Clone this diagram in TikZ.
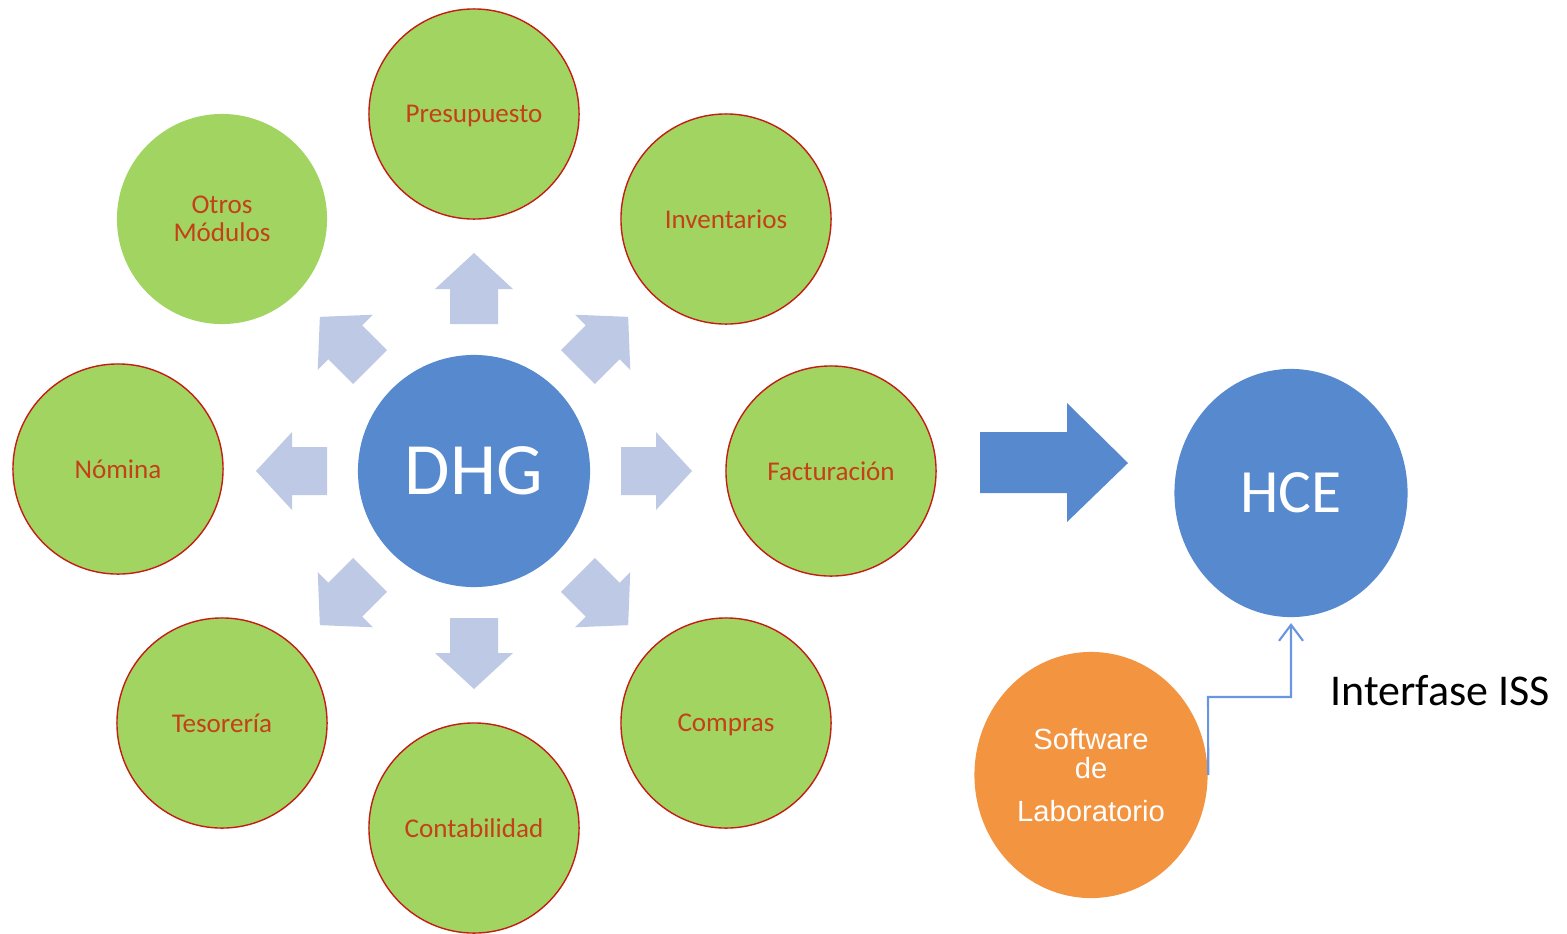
\documentclass[tikz,border=0pt]{standalone}
\usepackage{fontspec}
\setmainfont{Carlito}
\newfontfamily\arialfont{Liberation Sans}
\usetikzlibrary{shapes.geometric,arrows.meta}
\definecolor{verde}{RGB}{162,212,98}
\definecolor{rojo}{RGB}{196,30,20}
\definecolor{texto}{RGB}{196,64,24}
\definecolor{azul}{RGB}{86,137,205}
\definecolor{azulclaro}{RGB}{189,201,229}
\definecolor{naranja}{RGB}{243,148,65}
\definecolor{linea}{RGB}{105,150,222}

\begin{document}
\begin{tikzpicture}[x=0.01cm,y=-0.01cm,
    modulo/.style={circle,fill=verde,draw=rojo,line width=0.4pt,minimum size=2.1cm,inner sep=0pt,
        text=texto,font=\fontsize{7.7}{7.9}\selectfont,align=center,text depth=0pt},
    nucleo/.style={fill=azul,inner sep=0pt,text=white},
    flecha/.style={fill=azulclaro}]
    \useasboundingbox (0,0) rectangle (1567,933);

    \node[nucleo,circle,minimum size=2.32cm,font=\fontsize{21}{24}\selectfont] (dhg) at (474,471) {DHG};

    \node[modulo] (pres) at (474,114) {Presupuesto};
    \node[modulo,draw=none] (otros) at (222,219) {Otros\\M\'odulos};
    \node[modulo] (inv) at (726,219) {Inventarios};
    \node[modulo] (nom) at (118,469) {N\'omina};
    \node[modulo] (fact) at (831,471) {Facturaci\'on};
    \node[modulo] (teso) at (222,723) {Tesorer\'ia};
    \node[modulo] (comp) at (726,723) {Compras};
    \node[modulo] (cont) at (474,828) {Contabilidad};

    \foreach \ang in {0,45,...,315}
        \fill[flecha,shift={(dhg.center)},rotate=\ang]
            (147,-24) -- (182,-24) -- (182,-39) -- (218,0) -- (182,39) -- (182,24) -- (147,24) -- cycle;

    \fill[azul] (980,432) -- (1067,432) -- (1067,403) -- (1128,463) -- (1067,522) -- (1067,493) -- (980,493) -- cycle;

    \node[nucleo,ellipse,minimum width=2.33cm,minimum height=2.48cm,font=\fontsize{17.5}{20}\selectfont,text depth=0pt] (hce) at (1291,493) {HCE};
    \node[ellipse,fill=naranja,minimum width=2.33cm,minimum height=2.46cm,inner sep=0pt,text=white,
        font=\arialfont\fontsize{8.3}{10}\selectfont,align=center] (soft) at (1091,775) {Software\\[-1.5pt]de\\[2.2pt]Laboratorio};

    \coordinate (codo) at (1208,697);
    \draw[linea,line width=0.6pt,-{Straight Barb[length=1.6mm,width=2.4mm]},shorten >=1.5pt]
        (soft.east) -- (codo) -| (hce.south);
    \node[anchor=base west,font=\fontsize{12.5}{15}\selectfont] (iss) at (1318,705) {Interfase ISS};
\end{tikzpicture}
\end{document}
